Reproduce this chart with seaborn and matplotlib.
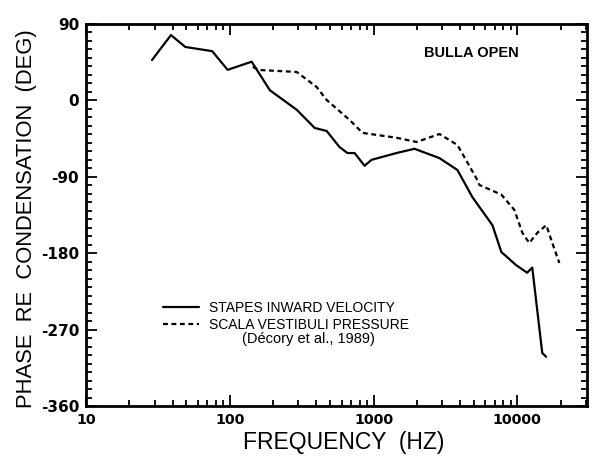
import matplotlib
matplotlib.use("Agg")
import matplotlib.pyplot as plt
import matplotlib.ticker as mticker
import numpy as np
import pandas as pd
import seaborn as sns

# ---- data ----
stapes_freq = [28.8, 39, 49, 75.5, 96.6, 142, 190, 292, 390, 472, 580, 658, 738,
               866, 968, 1445, 1928, 2873, 3830, 4870, 5445, 6710, 7740, 9800,
               11700, 12700, 14900, 15850]
stapes_phase = [47.6, 77, 63, 58, 36, 45.6, 12, -11, -32.5, -36, -55, -62, -62,
                -77, -70, -62, -57, -68, -82, -114, -125.5, -147, -178.6, -194,
                -203, -197, -297.5, -302]

scala_freq = [144.5, 161, 292, 402, 472, 681, 839, 1445, 1990, 2873, 3830, 5200,
              5445, 7740, 9530, 10840, 12100, 13770, 15900, 17500, 19600]
scala_phase = [39.4, 35.8, 33.5, 15.8, 0.5, -23, -38.3, -44, -49, -39.6, -52.5,
               -92, -99.6, -111, -129, -156, -168, -156, -147, -168, -191.5]

series_names = ["STAPES INWARD VELOCITY", "SCALA VESTIBULI PRESSURE"]
citation = "(Décory et al., 1989)"
annotation = "BULLA OPEN"

x_ticks = [10, 100, 1000, 10000]
x_tick_labels = ["10", "100", "1000", "10000"]
y_ticks = [-360, -270, -180, -90, 0, 90]
y_tick_labels = ["-360", "-270", "-180", "-90", "0", "90"]

x_label = "FREQUENCY  (HZ)"
y_label = "PHASE  RE  CONDENSATION  (DEG)"

df = pd.concat([
    pd.DataFrame({"freq": stapes_freq, "phase": stapes_phase, "series": series_names[0]}),
    pd.DataFrame({"freq": scala_freq, "phase": scala_phase, "series": series_names[1]}),
], ignore_index=True)

sns.set_theme(style="ticks")
plt.rcParams["font.family"] = ["Liberation Sans", "DejaVu Sans"]
plt.rcParams["text.color"] = "black"
plt.rcParams["axes.labelcolor"] = "black"
plt.rcParams["xtick.color"] = "black"
plt.rcParams["ytick.color"] = "black"

fig = plt.figure(figsize=(6.0, 4.68), dpi=100)
ax = fig.add_axes([0.1433, 0.1325, 0.8350, 0.8162])

sns.lineplot(data=df, x="freq", y="phase", hue="series", style="series",
             palette={series_names[0]: "black", series_names[1]: "black"},
             dashes={series_names[0]: "", series_names[1]: (2.2, 1.6)},
             estimator=None, sort=False, linewidth=1.6, ax=ax)

ax.set_xscale("log")
ax.set_xlim(10, 30500)
ax.set_ylim(-360, 90)

ax.set_xticks(x_ticks)
ax.set_xticklabels(x_tick_labels)
ax.xaxis.set_minor_locator(mticker.LogLocator(base=10, subs=np.arange(2, 10)))
ax.xaxis.set_minor_formatter(mticker.NullFormatter())
ax.set_yticks(y_ticks)
ax.set_yticklabels(y_tick_labels)
ax.yaxis.set_minor_locator(mticker.MultipleLocator(10))

ax.tick_params(which="both", direction="in", top=True, right=True, width=1.3,
               color="black")
ax.tick_params(which="major", length=8, pad=5)
ax.tick_params(which="minor", length=4)
for lab in ax.get_xticklabels():
    lab.set_fontweight("bold")
    lab.set_family(["DejaVu Sans"])
    lab.set_fontsize(10.3)
for lab in ax.get_yticklabels():
    lab.set_fontweight("bold")
    lab.set_family(["DejaVu Sans"])
    lab.set_fontsize(11)

for sp in ax.spines.values():
    sp.set_linewidth(2)
    sp.set_color("black")

ax.set_xlabel(x_label, fontsize=16.5)
ax.xaxis.set_label_coords(0.515, -0.065)
ax.set_ylabel(y_label, fontsize=15.8)
ax.yaxis.set_label_coords(-0.097, 0.49)

ax.text(0.77, 0.925, annotation, transform=ax.transAxes, fontsize=10.5,
        ha="center", va="center", fontweight="bold")

handles, labels = ax.get_legend_handles_labels()
leg = ax.legend(handles, labels, loc="upper left", bbox_to_anchor=(0.142, 0.29),
                frameon=False, fontsize=10, handlelength=2.6, handletextpad=0.75,
                labelspacing=0.2, borderaxespad=0)
for t in leg.get_texts():
    t.set_color("black")
ax.text(0.445, 0.175, citation, transform=ax.transAxes, fontsize=10.5,
        ha="center", va="center")

fig.savefig("out.png", dpi=100)
